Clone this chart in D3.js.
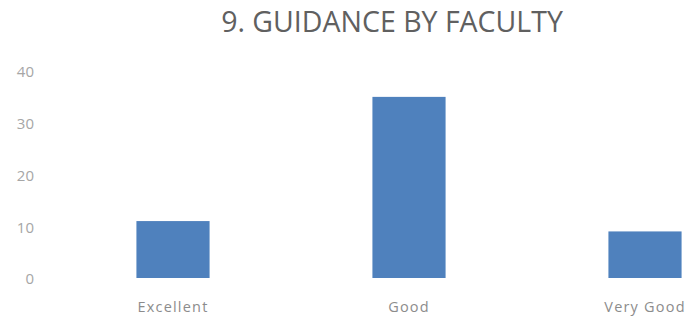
<!DOCTYPE html>
<html><head><meta charset="utf-8">
<script src="https://cdn.jsdelivr.net/npm/d3@7"></script>
<style>body{margin:0;background:#fff;}svg{display:block;}</style>
</head><body>
<svg id="chart" width="692" height="320"></svg>
<script>
const title = "9. GUIDANCE BY FACULTY";
const categories = ["Excellent", "Good", "Very Good"];
const values = [11, 35, 9];
const yTicks = [0, 10, 20, 30, 40];

const svg = d3.select("#chart");
const W = 692, H = 320;
svg.append("rect").attr("width", W).attr("height", H).attr("fill", "#fff");

const y = d3.scaleLinear().domain([0, 40]).range([278, 71]);
const x = d3.scaleBand().domain(categories).range([55, 763]).paddingInner(0.69).paddingOuter(0.345);

svg.append("text").attr("x", 392).attr("y", 32).attr("text-anchor", "middle")
  .attr("font-family", "Open Sans, sans-serif").attr("font-size", 28.5).attr("fill", "#606060")
  .text(title);

const yAxis = svg.append("g").attr("transform", "translate(34,1)")
  .call(d3.axisLeft(y).tickValues(yTicks).tickSize(0).tickPadding(0));
yAxis.select(".domain").remove();
yAxis.selectAll("text").attr("font-family", "Open Sans, sans-serif").attr("font-size", 15).attr("fill", "#a6a6a6");

svg.append("g").selectAll("rect").data(categories).join("rect")
  .attr("x", d => x(d)).attr("width", x.bandwidth())
  .attr("y", (d, i) => y(values[i])).attr("height", (d, i) => y(0) - y(values[i]))
  .attr("fill", "#4f81bd");

const xAxis = svg.append("g").attr("transform", "translate(0,302)")
  .call(d3.axisBottom(x).tickSize(0).tickPadding(0));
xAxis.select(".domain").remove();
xAxis.selectAll("text").attr("font-family", "Open Sans, sans-serif").attr("font-size", 14.5)
  .attr("letter-spacing", "1.2px").attr("fill", "#8c8c8c");
</script>
</body></html>
